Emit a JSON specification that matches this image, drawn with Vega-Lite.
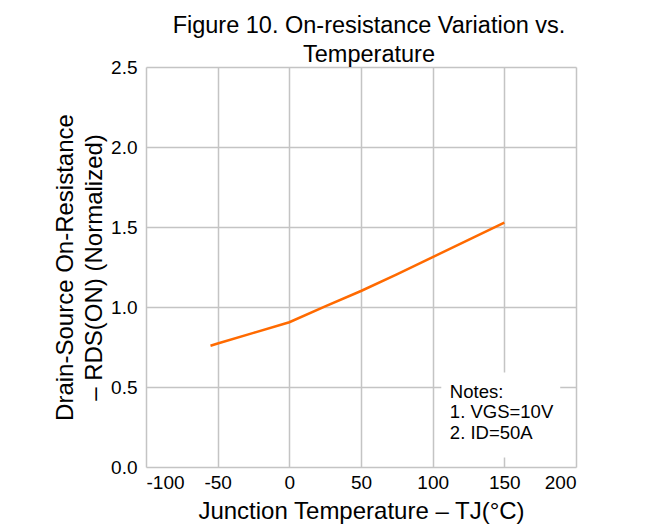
{
  "$schema": "https://vega.github.io/schema/vega-lite/v6.json",
  "width": 430,
  "height": 400,
  "padding": {"left": 53, "top": 13, "right": 5, "bottom": 5},
  "background": "white",
  "config": {
    "font": "Liberation Sans",
    "view": {"stroke": null},
    "axis": {
      "gridColor": "#c4c4c4",
      "gridWidth": 1.5,
      "domain": false,
      "ticks": false,
      "labelColor": "#000000",
      "titleColor": "#000000",
      "labelFont": "Liberation Sans",
      "titleFont": "Liberation Sans",
      "titleFontWeight": "normal",
      "labelFontSize": 19,
      "titleFontSize": 24
    }
  },
  "title": {
    "text": ["Figure 10. On-resistance Variation vs.", "Temperature"],
    "font": "Liberation Sans",
    "fontSize": 23.5,
    "fontWeight": "normal",
    "color": "#000000",
    "anchor": "middle",
    "lineHeight": 29,
    "offset": -8,
    "dx": 8
  },
  "datasets": {
    "curve": [
      {"t": -55, "r": 0.758},
      {"t": -50, "r": 0.772},
      {"t": -25, "r": 0.838},
      {"t": 0, "r": 0.905},
      {"t": 25, "r": 1.004},
      {"t": 50, "r": 1.1},
      {"t": 75, "r": 1.204},
      {"t": 100, "r": 1.312},
      {"t": 125, "r": 1.419},
      {"t": 150, "r": 1.527}
    ],
    "notes": [
      {"t": 112, "r": 0.47, "label": "Notes:"},
      {"t": 112, "r": 0.345, "label": "1. VGS=10V"},
      {"t": 112, "r": 0.215, "label": "2. ID=50A"}
    ],
    "box": [
      {"t1": 106, "t2": 189, "r1": 0.06, "r2": 0.59}
    ]
  },
  "layer": [
    {
      "data": {"name": "box"},
      "mark": {"type": "rect", "color": "white"},
      "encoding": {
        "x": {
          "field": "t1", "type": "quantitative",
          "scale": {"domain": [-100, 200], "nice": false},
          "axis": {
            "values": [-100, -50, 0, 50, 100, 150, 200],
            "labelExpr": "'' + datum.value",
            "title": "Junction Temperature  –  TJ(°C)",
            "labelPadding": 6,
            "titlePadding": 7
          }
        },
        "x2": {"field": "t2"},
        "y": {
          "field": "r1", "type": "quantitative",
          "scale": {"domain": [0, 2.5], "nice": false},
          "axis": {
            "values": [0, 0.5, 1, 1.5, 2, 2.5],
            "format": ".1f",
            "title": ["Drain-Source On-Resistance", "–  RDS(ON) (Normalized)"],
            "labelPadding": 9,
            "titlePadding": 4,
            "titleLineHeight": 29
          }
        },
        "y2": {"field": "r2"}
      }
    },
    {
      "data": {"name": "curve"},
      "mark": {"type": "line", "color": "#ff6a00", "strokeWidth": 2.5},
      "encoding": {
        "x": {"field": "t", "type": "quantitative"},
        "y": {"field": "r", "type": "quantitative"}
      }
    },
    {
      "data": {"name": "notes"},
      "mark": {"type": "text", "align": "left", "baseline": "middle", "fontSize": 18.5, "font": "Liberation Sans", "color": "#000000"},
      "encoding": {
        "x": {"field": "t", "type": "quantitative"},
        "y": {"field": "r", "type": "quantitative"},
        "text": {"field": "label"}
      }
    }
  ]
}
